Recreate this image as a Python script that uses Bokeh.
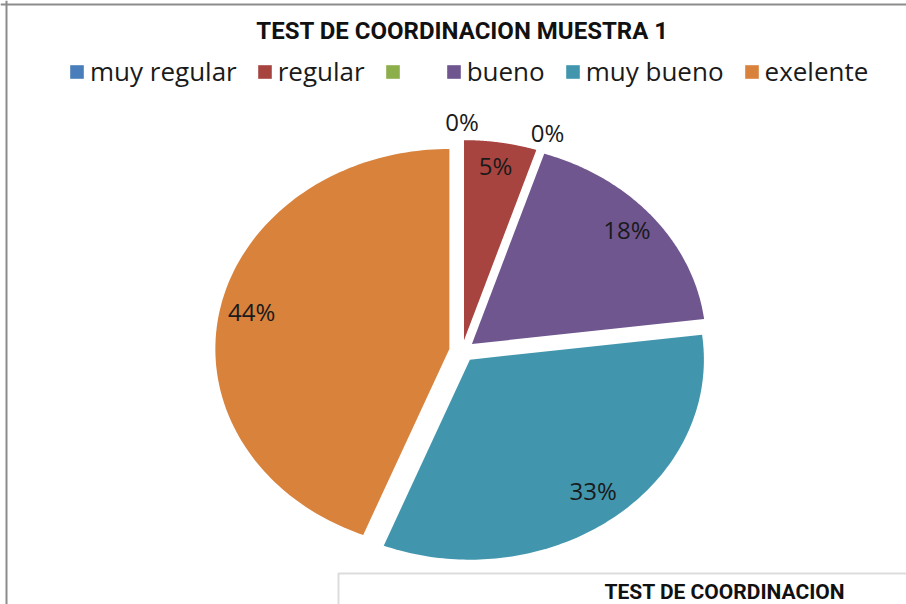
import numpy as np
from bokeh.plotting import figure
from bokeh.models import Range1d, Legend, LegendItem, Label, Span, BoxAnnotation, ColumnDataSource
from bokeh.embed import file_html
from bokeh.resources import INLINE
from bokeh.core.properties import value

# ---- data ----
categories = ["muy regular", "regular", " ", "bueno", "muy bueno", "exelente"]
percent = [0, 5, 0, 18, 33, 44]
colors = ["#4A7EBB", "#A7443F", "#8CAE4B", "#6F568F", "#4196AE", "#D8823C"]
title_text = "TEST DE COORDINACION MUESTRA 1"
second_title = "TEST DE COORDINACION"

# ---- layout ----
W, H = 906, 604
CX, CY = 461.5, 350.5      # pie centre (px in frame)
RX, RY = 234.0, 200.0      # ellipse radii
EXPLODE = 0.055
LABEL_R = 0.86
ZERO_R = 1.15

p = figure(width=W, height=H, x_range=Range1d(0, W), y_range=Range1d(H, 0),
           output_backend="svg", toolbar_location=None, min_border=0)
p.axis.visible = False
p.grid.visible = False
p.outline_line_color = None
p.background_fill_color = "white"

vals = np.array(percent, dtype=float)
fr = vals / vals.sum()
ends = np.cumsum(fr) * 2 * np.pi
starts = ends - fr * 2 * np.pi

xs, ys, lx, ly, ltxt = [], [], [], [], []
for s, e, v in zip(starts, ends, percent):
    mid = (s + e) / 2
    ax = CX + EXPLODE * RX * np.sin(mid)
    ay = CY - EXPLODE * RY * np.cos(mid)
    if v > 0:
        t = np.linspace(s, e, 120)
        px = np.concatenate([[ax], ax + RX * np.sin(t)])
        py = np.concatenate([[ay], ay - RY * np.cos(t)])
        lx.append(ax + LABEL_R * RX * np.sin(mid))
        ly.append(ay - LABEL_R * RY * np.cos(mid) - 5)
    else:
        px = np.array([ax, ax, ax])
        py = np.array([ay, ay, ay])
        lx.append(CX + ZERO_R * RX * np.sin(mid) + 8 * np.sin(mid))
        ly.append(CY - ZERO_R * RY * np.cos(mid))
    xs.append(px.tolist())
    ys.append(py.tolist())
    ltxt.append(f"{v}%")

src = ColumnDataSource(dict(xs=xs, ys=ys, color=colors, cat=categories))
r = p.patches("xs", "ys", source=src, fill_color="color", line_color=None)

lsrc = ColumnDataSource(dict(x=lx, y=ly, t=ltxt))
p.text("x", "y", text="t", source=lsrc, text_align="center", text_baseline="middle",
       text_font=value("Open Sans"), text_font_size="24px", text_color="#1A1A1A")

items = [LegendItem(label=c, renderers=[r], index=i) for i, c in enumerate(categories)]
legend = Legend(items=items, orientation="horizontal", location=(68, 515),
                label_text_font="Open Sans", label_text_font_size="26px",
                label_text_color="#1A1A1A", glyph_width=17, glyph_height=17,
                label_standoff=5, spacing=19, padding=0, margin=0,
                border_line_color=None, background_fill_alpha=0)
p.add_layout(legend)

p.add_layout(Label(x=462, y=30, text=title_text, text_align="center", text_baseline="middle",
                   text_font="Roboto", text_font_style="bold", text_font_size="24px",
                   text_color="#111111"))

p.add_layout(Span(location=4, dimension="width", line_color="#8C8C8C", line_width=2))
p.add_layout(Span(location=6, dimension="height", line_color="#8C8C8C", line_width=2))

p.add_layout(BoxAnnotation(left=338, right=W + 20, top=573, bottom=H + 20,
                           fill_color="white", fill_alpha=1, line_color="#8C8C8C", line_width=2))
p.add_layout(Label(x=604, y=603, text=second_title, text_align="left", text_baseline="bottom",
                   text_font="Roboto", text_font_style="bold", text_font_size="21px",
                   text_color="#111111"))

open("out.html", "w").write(file_html(p, INLINE))
